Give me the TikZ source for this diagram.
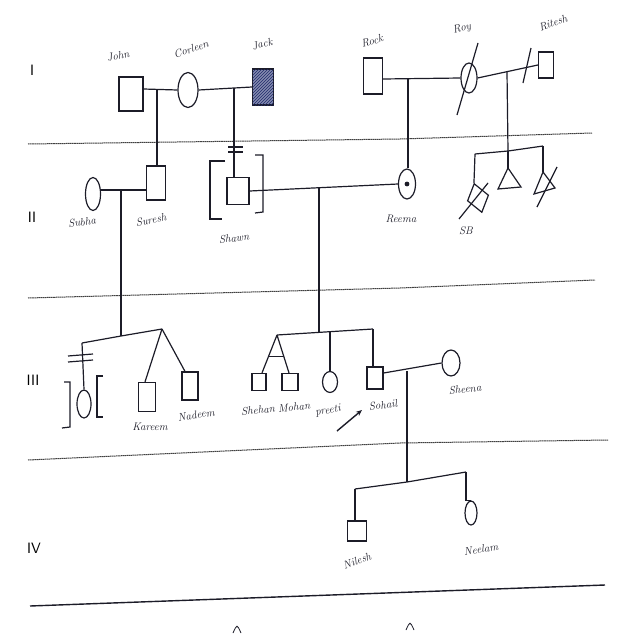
\documentclass[tikz,border=0pt]{standalone}
\usepackage{tikz}
\usetikzlibrary{arrows.meta,positioning,shapes.geometric,patterns,calc}
\definecolor{ink}{HTML}{1C1C28}
\definecolor{rulegray}{HTML}{404040}
\definecolor{hatch}{HTML}{1F2A6B}

\begin{document}
\begin{tikzpicture}[x=1pt, y=-1pt, color=ink, line width=1.2pt,
  male/.style={draw=ink, rectangle, inner sep=0pt, line width=1.2pt},
  female/.style={draw=ink, ellipse, inner sep=0pt, line width=1.2pt},
  sz/.style 2 args={minimum width=#1pt, minimum height=#2pt},
  nm/.style={font=\fontsize{11}{13}\selectfont\itshape, text=ink, inner sep=1pt},
  gen/.style={font=\fontsize{15}{16}\selectfont\sffamily, text=black},
  sep/.style={draw=rulegray, line width=1pt, dash pattern=on 1.6pt off 0.5pt},
  proband/.style={-{Stealth[length=6pt,width=5pt]}, line width=1.4pt},
]
\useasboundingbox (0,0) rectangle (640,640);

% generation labels and rules
\node[gen] (gI) at (32,70) {I};
\node[gen] (gII) at (32,217) {II};
\node[gen] (gIII) at (33,380) {III};
\node[gen] (gIV) at (34,548) {IV};
\draw[sep] (28,144) -- (400,139) -- (592,133);
\draw[sep] (28,298) -- (400,288) -- (595,280);
\draw[sep] (28,460) -- (400,443) -- (608,440);
\draw[line width=1.4pt] (30,606) -- (605,585);
\draw[line width=0.8pt] (233,633) .. controls (237,624) .. (241,633);
\draw[line width=0.8pt] (406,630) .. controls (410,621) .. (414,630);

% generation I
\node[male, sz={24}{34}] (john) at (131,94) {};
\node[female, sz={20}{35}] (corleen) at (188,90) {};
\node[male, sz={21}{36}, fill=hatch!55, postaction={pattern=north east lines, pattern color=hatch}] (jack) at (263,87) {};
\node[nm, rotate=12] (johnL) at (118,56) {John};
\node[nm, rotate=18] (corleenL) at (191,49) {Corleen};
\node[nm, rotate=15] (jackL) at (262,44) {Jack};
\node[male, sz={19}{36}] (rock) at (373,76) {};
\node[female, sz={16}{30}] (roy) at (469,78) {};
\node[male, sz={15}{26}] (ritesh) at (546,65) {};
\node[nm, rotate=15] (rockL) at (372,41) {Rock};
\node[nm, rotate=15] (royL) at (462,29) {Roy};
\node[nm, rotate=20] (riteshL) at (553,23) {Ritesh};
\draw ([yshift=5pt]john.east) -- (corleen.west);
\draw (corleen.east) -- (jack.west);
\draw ([yshift=-3pt]rock.east) -- (roy.west);
\draw (roy.east) -- (ritesh.west);
\draw (457,115) -- (478,43);
\draw (523,83) -- (531,48);
\coordinate (jc) at (157,89);
\coordinate (cj) at (234,88);
\coordinate (rr) at (408,79);
\coordinate (rt) at (507,72);

% generation II
\node[female, sz={15}{33}] (subha) at (93,194) {};
\node[male, sz={19}{34}] (suresh) at (156,183) {};
\node[male, sz={22}{27}] (shawn) at (238,191) {};
\node[female, sz={17}{30}] (reema) at (407,184) {};
\node[circle, fill=ink, inner sep=1.7pt] (reemadot) at (reema) {};
\node[nm, rotate=8] (subhaL) at (82,222) {Subha};
\node[nm, rotate=10] (sureshL) at (151,220) {Suresh};
\node[nm, rotate=5] (shawnL) at (234,238) {Shawn};
\node[nm] (reemaL) at (401,219) {Reema};
\draw (jc) -- (jc |- suresh.north);
\draw (cj) -- (cj |- shawn.north);
\draw (rr) -- (rr |- reema.north);
\draw (228,147) -- (243,147);
\draw (228,152) -- (243,152);
\draw (225,161) -- (210,161) -- (210,219) -- (222,219);
\draw (255,155) -- (263,155) -- (263,212) -- (255,213);
\draw ([yshift=4pt]subha.east) -- ([yshift=-7pt]suresh.west);
\draw (shawn.east) -- (reema.west);
\coordinate (ss) at (121,190);
\coordinate (sr) at (319,187);
% Roy and Ritesh: stillbirth, miscarriages
\coordinate (s2l) at (475,154);
\coordinate (s2m) at (508,151);
\coordinate (s2r) at (543,146);
\draw (rt) -- (s2m);
\draw (s2l) -- (s2m) -- (s2r);
\node[draw=ink, diamond, inner sep=0pt, sz={22}{30}, rotate=15, line width=1.2pt] (sb) at (478,198) {};
\draw (s2l) -- (sb.north);
\draw (459,219) -- (488,183);
\node[nm] (sbL) at (466,231) {SB};
\coordinate (mcA) at (508,168);
\draw (s2m) -- (mcA);
\draw (mcA) -- (498,189) -- (521,187) -- cycle;
\coordinate (mcB) at (543,172);
\draw (s2r) -- (mcB);
\draw (mcB) -- (534,194) -- (555,188) -- cycle;
\draw (537,207) -- (557,167);

% generation III
\coordinate (s3al) at (82,343);
\coordinate (s3am) at (121,336);
\coordinate (s3ar) at (162,329);
\draw (ss) -- (s3am);
\draw (s3al) -- (s3am) -- (s3ar);
\node[female, sz={14}{28}] (adopt) at (84,404) {};
\draw (s3al) -- (adopt.north);
\draw (68,356) -- (93,354);
\draw (68,362) -- (93,360);
\draw (64,382) -- (70,382) -- (70,427) -- (62,428);
\draw (103,376) -- (97,376) -- (97,417) -- (103,417);
\node[male, sz={17}{29}] (kareem) at (147,397) {};
\node[male, sz={16}{28}] (nadeem) at (190,386) {};
\draw (s3ar) -- ([xshift=-2pt]kareem.north);
\draw (s3ar) -- ([xshift=-5pt]nadeem.north);
\node[nm] (kareemL) at (150,427) {Kareem};
\node[nm, rotate=10] (nadeemL) at (196,415) {Nadeem};

\coordinate (s3bl) at (277,335);
\coordinate (s3bm) at (319,332);
\coordinate (s3bp) at (330,331.5);
\coordinate (s3br) at (373,329);
\draw (sr) -- (s3bm);
\draw (s3bl) -- (s3br);
\node[male, sz={14}{17}] (shehan) at (259,382) {};
\node[male, sz={16}{17}] (mohan) at (290,382) {};
\node[female, sz={15}{21}] (preeti) at (330,382) {};
\node[male, sz={16}{22}] (sohail) at (375,378) {};
\node[female, sz={18}{26}] (sheena) at (451,363) {};
\draw (s3bl) -- ([xshift=3pt]shehan.north);
\draw (s3bl) -- ([xshift=-1pt]mohan.north);
\draw ($(s3bl)!0.57!([xshift=3pt]shehan.north)$) -- ($(s3bl)!0.57!([xshift=-1pt]mohan.north)$);
\draw (s3bp) -- (preeti.north);
\draw (s3br) -- (s3br |- sohail.north);
\draw ([yshift=5pt]sohail.east) -- (sheena.west);
\node[nm, rotate=5] (shehanL) at (258,410) {Shehan};
\node[nm, rotate=5] (mohanL) at (294,407) {Mohan};
\node[nm, rotate=10] (preetiL) at (328,411) {preeti};
\node[nm, rotate=8] (sohailL) at (383,405) {Sohail};
\node[nm, rotate=5] (sheenaL) at (465,389) {Sheena};
\coordinate (pb) at (337,431);
\coordinate (pbtip) at (362,410);
\draw[proband] (pb) -- (pbtip);
\coordinate (sh) at (407,371);

% generation IV
\coordinate (s4l) at (355,489);
\coordinate (s4m) at (407,482);
\coordinate (s4r) at (466,472);
\draw (sh) -- (s4m);
\draw (s4l) -- (s4m) -- (s4r);
\node[male, sz={19}{20}] (nilesh) at (357,531) {};
\node[female, sz={12}{24}] (neelam) at (471,513) {};
\draw (s4l) -- (s4l |- nilesh.north);
\draw (s4r) -- (s4r |- neelam.north) -- (neelam.north);
\node[nm, rotate=20] (nileshL) at (357,561) {Nilesh};
\node[nm, rotate=8] (neelamL) at (481,549) {Neelam};
\end{tikzpicture}
\end{document}
